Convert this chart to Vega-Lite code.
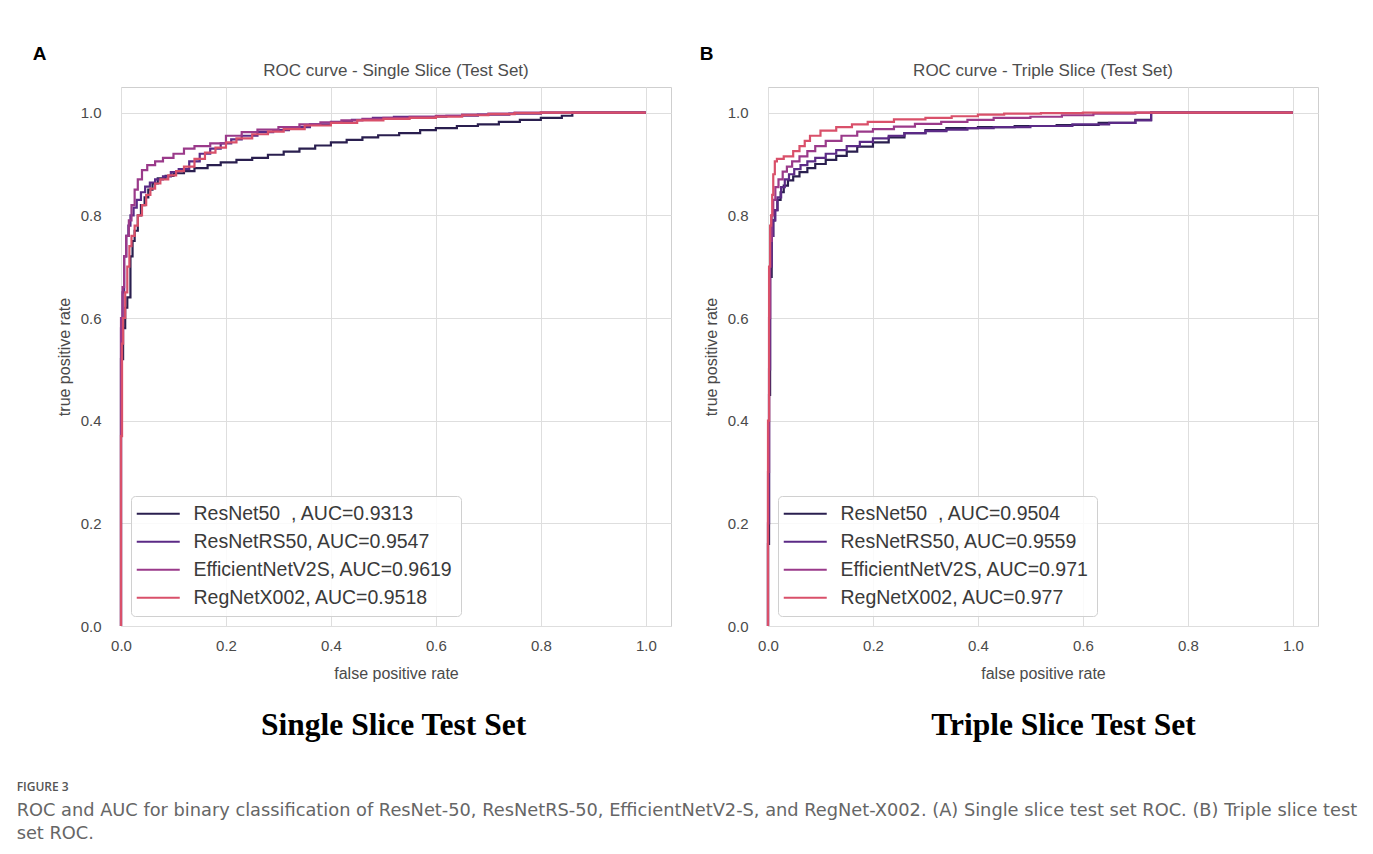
{
 "$schema": "https://vega.github.io/schema/vega-lite/v6.json",
 "background": "white",
 "padding": {"left": 16, "top": 44, "right": 0, "bottom": 10},
 "autosize": {"type": "pad"},
 "config": {
  "font": "Liberation Sans",
  "view": {"stroke": "#cfcfcf", "strokeWidth": 1},
  "axis": {"grid": true, "gridColor": "#dedede", "gridWidth": 1, "domain": false, "ticks": false, "labelFlush": false, "labelFontSize": 15, "labelColor": "#4a4a4a", "labelFont": "Liberation Sans", "titleFontSize": 16, "titleFontWeight": "normal", "titleColor": "#4a4a4a", "titleFont": "Liberation Sans"},
  "legend": {"orient": "bottom-left", "offset": 10, "padding": 8, "strokeColor": "#d0d0d0", "fillColor": "rgba(255,255,255,0.85)", "cornerRadius": 4, "labelFontSize": 19.5, "labelColor": "#3a3a3a", "labelFont": "Liberation Sans", "symbolType": "M-2.4,0H6.2", "symbolSize": 100, "symbolStrokeWidth": 2.2, "labelOffset": 35, "rowPadding": 7, "labelLimit": 400}
 },
 "datasets": {
  "roc": [
   {"panel":"A","model":"ResNet50","fpr":0,"tpr":0},
   {"panel":"A","model":"ResNet50","fpr":0.004,"tpr":0.52},
   {"panel":"A","model":"ResNet50","fpr":0.008,"tpr":0.58},
   {"panel":"A","model":"ResNet50","fpr":0.012,"tpr":0.62},
   {"panel":"A","model":"ResNet50","fpr":0.018,"tpr":0.64},
   {"panel":"A","model":"ResNet50","fpr":0.022,"tpr":0.72},
   {"panel":"A","model":"ResNet50","fpr":0.026,"tpr":0.75},
   {"panel":"A","model":"ResNet50","fpr":0.032,"tpr":0.77},
   {"panel":"A","model":"ResNet50","fpr":0.038,"tpr":0.80},
   {"panel":"A","model":"ResNet50","fpr":0.045,"tpr":0.82},
   {"panel":"A","model":"ResNet50","fpr":0.052,"tpr":0.835},
   {"panel":"A","model":"ResNet50","fpr":0.06,"tpr":0.85},
   {"panel":"A","model":"ResNet50","fpr":0.07,"tpr":0.862},
   {"panel":"A","model":"ResNet50","fpr":0.085,"tpr":0.872},
   {"panel":"A","model":"ResNet50","fpr":0.1,"tpr":0.877},
   {"panel":"A","model":"ResNet50","fpr":0.12,"tpr":0.882},
   {"panel":"A","model":"ResNet50","fpr":0.14,"tpr":0.886},
   {"panel":"A","model":"ResNet50","fpr":0.165,"tpr":0.892},
   {"panel":"A","model":"ResNet50","fpr":0.19,"tpr":0.898},
   {"panel":"A","model":"ResNet50","fpr":0.22,"tpr":0.903},
   {"panel":"A","model":"ResNet50","fpr":0.25,"tpr":0.908},
   {"panel":"A","model":"ResNet50","fpr":0.28,"tpr":0.912},
   {"panel":"A","model":"ResNet50","fpr":0.31,"tpr":0.918},
   {"panel":"A","model":"ResNet50","fpr":0.34,"tpr":0.924},
   {"panel":"A","model":"ResNet50","fpr":0.37,"tpr":0.93},
   {"panel":"A","model":"ResNet50","fpr":0.40,"tpr":0.936},
   {"panel":"A","model":"ResNet50","fpr":0.43,"tpr":0.942},
   {"panel":"A","model":"ResNet50","fpr":0.46,"tpr":0.947},
   {"panel":"A","model":"ResNet50","fpr":0.49,"tpr":0.952},
   {"panel":"A","model":"ResNet50","fpr":0.53,"tpr":0.956},
   {"panel":"A","model":"ResNet50","fpr":0.57,"tpr":0.96},
   {"panel":"A","model":"ResNet50","fpr":0.60,"tpr":0.966},
   {"panel":"A","model":"ResNet50","fpr":0.64,"tpr":0.970},
   {"panel":"A","model":"ResNet50","fpr":0.68,"tpr":0.974},
   {"panel":"A","model":"ResNet50","fpr":0.72,"tpr":0.977},
   {"panel":"A","model":"ResNet50","fpr":0.76,"tpr":0.982},
   {"panel":"A","model":"ResNet50","fpr":0.80,"tpr":0.986},
   {"panel":"A","model":"ResNet50","fpr":0.84,"tpr":0.99},
   {"panel":"A","model":"ResNet50","fpr":0.86,"tpr":0.994},
   {"panel":"A","model":"ResNet50","fpr":0.87,"tpr":1.0},
   {"panel":"A","model":"ResNet50","fpr":1.0,"tpr":1.0},

   {"panel":"A","model":"ResNetRS50","fpr":0,"tpr":0},
   {"panel":"A","model":"ResNetRS50","fpr":0.003,"tpr":0.58},
   {"panel":"A","model":"ResNetRS50","fpr":0.006,"tpr":0.65},
   {"panel":"A","model":"ResNetRS50","fpr":0.01,"tpr":0.72},
   {"panel":"A","model":"ResNetRS50","fpr":0.014,"tpr":0.76},
   {"panel":"A","model":"ResNetRS50","fpr":0.018,"tpr":0.78},
   {"panel":"A","model":"ResNetRS50","fpr":0.024,"tpr":0.80},
   {"panel":"A","model":"ResNetRS50","fpr":0.03,"tpr":0.815},
   {"panel":"A","model":"ResNetRS50","fpr":0.038,"tpr":0.83},
   {"panel":"A","model":"ResNetRS50","fpr":0.046,"tpr":0.845},
   {"panel":"A","model":"ResNetRS50","fpr":0.055,"tpr":0.856},
   {"panel":"A","model":"ResNetRS50","fpr":0.065,"tpr":0.864},
   {"panel":"A","model":"ResNetRS50","fpr":0.08,"tpr":0.87},
   {"panel":"A","model":"ResNetRS50","fpr":0.095,"tpr":0.876},
   {"panel":"A","model":"ResNetRS50","fpr":0.11,"tpr":0.884},
   {"panel":"A","model":"ResNetRS50","fpr":0.13,"tpr":0.89},
   {"panel":"A","model":"ResNetRS50","fpr":0.15,"tpr":0.905},
   {"panel":"A","model":"ResNetRS50","fpr":0.17,"tpr":0.92},
   {"panel":"A","model":"ResNetRS50","fpr":0.19,"tpr":0.93},
   {"panel":"A","model":"ResNetRS50","fpr":0.21,"tpr":0.94},
   {"panel":"A","model":"ResNetRS50","fpr":0.23,"tpr":0.948},
   {"panel":"A","model":"ResNetRS50","fpr":0.26,"tpr":0.955},
   {"panel":"A","model":"ResNetRS50","fpr":0.29,"tpr":0.962},
   {"panel":"A","model":"ResNetRS50","fpr":0.32,"tpr":0.966},
   {"panel":"A","model":"ResNetRS50","fpr":0.36,"tpr":0.972},
   {"panel":"A","model":"ResNetRS50","fpr":0.40,"tpr":0.977},
   {"panel":"A","model":"ResNetRS50","fpr":0.44,"tpr":0.982},
   {"panel":"A","model":"ResNetRS50","fpr":0.48,"tpr":0.986},
   {"panel":"A","model":"ResNetRS50","fpr":0.52,"tpr":0.99},
   {"panel":"A","model":"ResNetRS50","fpr":0.62,"tpr":0.992},
   {"panel":"A","model":"ResNetRS50","fpr":0.68,"tpr":0.994},
   {"panel":"A","model":"ResNetRS50","fpr":0.74,"tpr":0.996},
   {"panel":"A","model":"ResNetRS50","fpr":0.8,"tpr":0.998},
   {"panel":"A","model":"ResNetRS50","fpr":0.85,"tpr":1.0},
   {"panel":"A","model":"ResNetRS50","fpr":1.0,"tpr":1.0},

   {"panel":"A","model":"EfficientNetV2S","fpr":0,"tpr":0},
   {"panel":"A","model":"EfficientNetV2S","fpr":0.003,"tpr":0.6},
   {"panel":"A","model":"EfficientNetV2S","fpr":0.006,"tpr":0.66},
   {"panel":"A","model":"EfficientNetV2S","fpr":0.01,"tpr":0.72},
   {"panel":"A","model":"EfficientNetV2S","fpr":0.015,"tpr":0.76},
   {"panel":"A","model":"EfficientNetV2S","fpr":0.02,"tpr":0.79},
   {"panel":"A","model":"EfficientNetV2S","fpr":0.026,"tpr":0.82},
   {"panel":"A","model":"EfficientNetV2S","fpr":0.032,"tpr":0.85},
   {"panel":"A","model":"EfficientNetV2S","fpr":0.04,"tpr":0.87},
   {"panel":"A","model":"EfficientNetV2S","fpr":0.05,"tpr":0.888},
   {"panel":"A","model":"EfficientNetV2S","fpr":0.065,"tpr":0.898},
   {"panel":"A","model":"EfficientNetV2S","fpr":0.08,"tpr":0.905},
   {"panel":"A","model":"EfficientNetV2S","fpr":0.1,"tpr":0.912},
   {"panel":"A","model":"EfficientNetV2S","fpr":0.12,"tpr":0.92},
   {"panel":"A","model":"EfficientNetV2S","fpr":0.14,"tpr":0.93},
   {"panel":"A","model":"EfficientNetV2S","fpr":0.17,"tpr":0.935},
   {"panel":"A","model":"EfficientNetV2S","fpr":0.2,"tpr":0.94},
   {"panel":"A","model":"EfficientNetV2S","fpr":0.23,"tpr":0.955},
   {"panel":"A","model":"EfficientNetV2S","fpr":0.26,"tpr":0.962},
   {"panel":"A","model":"EfficientNetV2S","fpr":0.3,"tpr":0.967},
   {"panel":"A","model":"EfficientNetV2S","fpr":0.34,"tpr":0.972},
   {"panel":"A","model":"EfficientNetV2S","fpr":0.38,"tpr":0.977},
   {"panel":"A","model":"EfficientNetV2S","fpr":0.42,"tpr":0.981},
   {"panel":"A","model":"EfficientNetV2S","fpr":0.46,"tpr":0.985},
   {"panel":"A","model":"EfficientNetV2S","fpr":0.5,"tpr":0.988},
   {"panel":"A","model":"EfficientNetV2S","fpr":0.55,"tpr":0.99},
   {"panel":"A","model":"EfficientNetV2S","fpr":0.6,"tpr":0.992},
   {"panel":"A","model":"EfficientNetV2S","fpr":0.65,"tpr":0.994},
   {"panel":"A","model":"EfficientNetV2S","fpr":0.7,"tpr":0.996},
   {"panel":"A","model":"EfficientNetV2S","fpr":0.75,"tpr":0.998},
   {"panel":"A","model":"EfficientNetV2S","fpr":0.8,"tpr":1.0},
   {"panel":"A","model":"EfficientNetV2S","fpr":1.0,"tpr":1.0},

   {"panel":"A","model":"RegNetX002","fpr":0,"tpr":0},
   {"panel":"A","model":"RegNetX002","fpr":0.002,"tpr":0.37},
   {"panel":"A","model":"RegNetX002","fpr":0.004,"tpr":0.55},
   {"panel":"A","model":"RegNetX002","fpr":0.008,"tpr":0.6},
   {"panel":"A","model":"RegNetX002","fpr":0.012,"tpr":0.65},
   {"panel":"A","model":"RegNetX002","fpr":0.016,"tpr":0.7},
   {"panel":"A","model":"RegNetX002","fpr":0.02,"tpr":0.74},
   {"panel":"A","model":"RegNetX002","fpr":0.026,"tpr":0.76},
   {"panel":"A","model":"RegNetX002","fpr":0.032,"tpr":0.78},
   {"panel":"A","model":"RegNetX002","fpr":0.04,"tpr":0.80},
   {"panel":"A","model":"RegNetX002","fpr":0.048,"tpr":0.82},
   {"panel":"A","model":"RegNetX002","fpr":0.056,"tpr":0.84},
   {"panel":"A","model":"RegNetX002","fpr":0.065,"tpr":0.852},
   {"panel":"A","model":"RegNetX002","fpr":0.075,"tpr":0.862},
   {"panel":"A","model":"RegNetX002","fpr":0.09,"tpr":0.87},
   {"panel":"A","model":"RegNetX002","fpr":0.105,"tpr":0.878},
   {"panel":"A","model":"RegNetX002","fpr":0.12,"tpr":0.886},
   {"panel":"A","model":"RegNetX002","fpr":0.14,"tpr":0.895},
   {"panel":"A","model":"RegNetX002","fpr":0.16,"tpr":0.91},
   {"panel":"A","model":"RegNetX002","fpr":0.18,"tpr":0.922},
   {"panel":"A","model":"RegNetX002","fpr":0.2,"tpr":0.932},
   {"panel":"A","model":"RegNetX002","fpr":0.22,"tpr":0.942},
   {"panel":"A","model":"RegNetX002","fpr":0.25,"tpr":0.95},
   {"panel":"A","model":"RegNetX002","fpr":0.28,"tpr":0.958},
   {"panel":"A","model":"RegNetX002","fpr":0.31,"tpr":0.963},
   {"panel":"A","model":"RegNetX002","fpr":0.35,"tpr":0.968},
   {"panel":"A","model":"RegNetX002","fpr":0.4,"tpr":0.975},
   {"panel":"A","model":"RegNetX002","fpr":0.45,"tpr":0.98},
   {"panel":"A","model":"RegNetX002","fpr":0.5,"tpr":0.985},
   {"panel":"A","model":"RegNetX002","fpr":0.55,"tpr":0.988},
   {"panel":"A","model":"RegNetX002","fpr":0.6,"tpr":0.99},
   {"panel":"A","model":"RegNetX002","fpr":0.65,"tpr":0.992},
   {"panel":"A","model":"RegNetX002","fpr":0.7,"tpr":0.995},
   {"panel":"A","model":"RegNetX002","fpr":0.75,"tpr":0.997},
   {"panel":"A","model":"RegNetX002","fpr":0.8,"tpr":0.999},
   {"panel":"A","model":"RegNetX002","fpr":0.85,"tpr":1.0},
   {"panel":"A","model":"RegNetX002","fpr":1.0,"tpr":1.0},

   {"panel":"B","model":"ResNet50","fpr":0,"tpr":0},
   {"panel":"B","model":"ResNet50","fpr":0.002,"tpr":0.16},
   {"panel":"B","model":"ResNet50","fpr":0.004,"tpr":0.45},
   {"panel":"B","model":"ResNet50","fpr":0.007,"tpr":0.68},
   {"panel":"B","model":"ResNet50","fpr":0.01,"tpr":0.76},
   {"panel":"B","model":"ResNet50","fpr":0.013,"tpr":0.79},
   {"panel":"B","model":"ResNet50","fpr":0.018,"tpr":0.81},
   {"panel":"B","model":"ResNet50","fpr":0.024,"tpr":0.83},
   {"panel":"B","model":"ResNet50","fpr":0.03,"tpr":0.845},
   {"panel":"B","model":"ResNet50","fpr":0.038,"tpr":0.858},
   {"panel":"B","model":"ResNet50","fpr":0.048,"tpr":0.868},
   {"panel":"B","model":"ResNet50","fpr":0.06,"tpr":0.876},
   {"panel":"B","model":"ResNet50","fpr":0.075,"tpr":0.884},
   {"panel":"B","model":"ResNet50","fpr":0.09,"tpr":0.892},
   {"panel":"B","model":"ResNet50","fpr":0.11,"tpr":0.9},
   {"panel":"B","model":"ResNet50","fpr":0.13,"tpr":0.908},
   {"panel":"B","model":"ResNet50","fpr":0.15,"tpr":0.916},
   {"panel":"B","model":"ResNet50","fpr":0.17,"tpr":0.924},
   {"panel":"B","model":"ResNet50","fpr":0.2,"tpr":0.934},
   {"panel":"B","model":"ResNet50","fpr":0.23,"tpr":0.942},
   {"panel":"B","model":"ResNet50","fpr":0.26,"tpr":0.952},
   {"panel":"B","model":"ResNet50","fpr":0.3,"tpr":0.96},
   {"panel":"B","model":"ResNet50","fpr":0.34,"tpr":0.966},
   {"panel":"B","model":"ResNet50","fpr":0.4,"tpr":0.97},
   {"panel":"B","model":"ResNet50","fpr":0.47,"tpr":0.972},
   {"panel":"B","model":"ResNet50","fpr":0.55,"tpr":0.974},
   {"panel":"B","model":"ResNet50","fpr":0.63,"tpr":0.976},
   {"panel":"B","model":"ResNet50","fpr":0.7,"tpr":0.98},
   {"panel":"B","model":"ResNet50","fpr":0.73,"tpr":0.986},
   {"panel":"B","model":"ResNet50","fpr":0.8,"tpr":1.0},
   {"panel":"B","model":"ResNet50","fpr":1.0,"tpr":1.0},

   {"panel":"B","model":"ResNetRS50","fpr":0,"tpr":0},
   {"panel":"B","model":"ResNetRS50","fpr":0.002,"tpr":0.2},
   {"panel":"B","model":"ResNetRS50","fpr":0.004,"tpr":0.5},
   {"panel":"B","model":"ResNetRS50","fpr":0.007,"tpr":0.7},
   {"panel":"B","model":"ResNetRS50","fpr":0.01,"tpr":0.76},
   {"panel":"B","model":"ResNetRS50","fpr":0.014,"tpr":0.79},
   {"panel":"B","model":"ResNetRS50","fpr":0.018,"tpr":0.81},
   {"panel":"B","model":"ResNetRS50","fpr":0.025,"tpr":0.835},
   {"panel":"B","model":"ResNetRS50","fpr":0.032,"tpr":0.855},
   {"panel":"B","model":"ResNetRS50","fpr":0.04,"tpr":0.87},
   {"panel":"B","model":"ResNetRS50","fpr":0.05,"tpr":0.88},
   {"panel":"B","model":"ResNetRS50","fpr":0.062,"tpr":0.89},
   {"panel":"B","model":"ResNetRS50","fpr":0.075,"tpr":0.898},
   {"panel":"B","model":"ResNetRS50","fpr":0.09,"tpr":0.905},
   {"panel":"B","model":"ResNetRS50","fpr":0.11,"tpr":0.912},
   {"panel":"B","model":"ResNetRS50","fpr":0.13,"tpr":0.92},
   {"panel":"B","model":"ResNetRS50","fpr":0.15,"tpr":0.927},
   {"panel":"B","model":"ResNetRS50","fpr":0.175,"tpr":0.935},
   {"panel":"B","model":"ResNetRS50","fpr":0.2,"tpr":0.943},
   {"panel":"B","model":"ResNetRS50","fpr":0.23,"tpr":0.95},
   {"panel":"B","model":"ResNetRS50","fpr":0.26,"tpr":0.955},
   {"panel":"B","model":"ResNetRS50","fpr":0.3,"tpr":0.96},
   {"panel":"B","model":"ResNetRS50","fpr":0.34,"tpr":0.964},
   {"panel":"B","model":"ResNetRS50","fpr":0.38,"tpr":0.967},
   {"panel":"B","model":"ResNetRS50","fpr":0.43,"tpr":0.97},
   {"panel":"B","model":"ResNetRS50","fpr":0.5,"tpr":0.972},
   {"panel":"B","model":"ResNetRS50","fpr":0.58,"tpr":0.974},
   {"panel":"B","model":"ResNetRS50","fpr":0.65,"tpr":0.977},
   {"panel":"B","model":"ResNetRS50","fpr":0.7,"tpr":0.98},
   {"panel":"B","model":"ResNetRS50","fpr":0.73,"tpr":0.985},
   {"panel":"B","model":"ResNetRS50","fpr":0.8,"tpr":1.0},
   {"panel":"B","model":"ResNetRS50","fpr":1.0,"tpr":1.0},

   {"panel":"B","model":"EfficientNetV2S","fpr":0,"tpr":0},
   {"panel":"B","model":"EfficientNetV2S","fpr":0.002,"tpr":0.3},
   {"panel":"B","model":"EfficientNetV2S","fpr":0.004,"tpr":0.6},
   {"panel":"B","model":"EfficientNetV2S","fpr":0.007,"tpr":0.75},
   {"panel":"B","model":"EfficientNetV2S","fpr":0.01,"tpr":0.8},
   {"panel":"B","model":"EfficientNetV2S","fpr":0.014,"tpr":0.83},
   {"panel":"B","model":"EfficientNetV2S","fpr":0.02,"tpr":0.855},
   {"panel":"B","model":"EfficientNetV2S","fpr":0.028,"tpr":0.87},
   {"panel":"B","model":"EfficientNetV2S","fpr":0.036,"tpr":0.885},
   {"panel":"B","model":"EfficientNetV2S","fpr":0.046,"tpr":0.895},
   {"panel":"B","model":"EfficientNetV2S","fpr":0.06,"tpr":0.905},
   {"panel":"B","model":"EfficientNetV2S","fpr":0.075,"tpr":0.915},
   {"panel":"B","model":"EfficientNetV2S","fpr":0.09,"tpr":0.925},
   {"panel":"B","model":"EfficientNetV2S","fpr":0.11,"tpr":0.935},
   {"panel":"B","model":"EfficientNetV2S","fpr":0.14,"tpr":0.945},
   {"panel":"B","model":"EfficientNetV2S","fpr":0.17,"tpr":0.955},
   {"panel":"B","model":"EfficientNetV2S","fpr":0.2,"tpr":0.963},
   {"panel":"B","model":"EfficientNetV2S","fpr":0.24,"tpr":0.968},
   {"panel":"B","model":"EfficientNetV2S","fpr":0.28,"tpr":0.973},
   {"panel":"B","model":"EfficientNetV2S","fpr":0.33,"tpr":0.978},
   {"panel":"B","model":"EfficientNetV2S","fpr":0.38,"tpr":0.982},
   {"panel":"B","model":"EfficientNetV2S","fpr":0.43,"tpr":0.986},
   {"panel":"B","model":"EfficientNetV2S","fpr":0.5,"tpr":0.99},
   {"panel":"B","model":"EfficientNetV2S","fpr":0.56,"tpr":0.992},
   {"panel":"B","model":"EfficientNetV2S","fpr":0.62,"tpr":0.995},
   {"panel":"B","model":"EfficientNetV2S","fpr":0.7,"tpr":0.998},
   {"panel":"B","model":"EfficientNetV2S","fpr":0.8,"tpr":1.0},
   {"panel":"B","model":"EfficientNetV2S","fpr":1.0,"tpr":1.0},

   {"panel":"B","model":"RegNetX002","fpr":0,"tpr":0},
   {"panel":"B","model":"RegNetX002","fpr":0.002,"tpr":0.4},
   {"panel":"B","model":"RegNetX002","fpr":0.004,"tpr":0.7},
   {"panel":"B","model":"RegNetX002","fpr":0.006,"tpr":0.78},
   {"panel":"B","model":"RegNetX002","fpr":0.008,"tpr":0.8},
   {"panel":"B","model":"RegNetX002","fpr":0.01,"tpr":0.84},
   {"panel":"B","model":"RegNetX002","fpr":0.013,"tpr":0.88},
   {"panel":"B","model":"RegNetX002","fpr":0.017,"tpr":0.905},
   {"panel":"B","model":"RegNetX002","fpr":0.03,"tpr":0.91},
   {"panel":"B","model":"RegNetX002","fpr":0.048,"tpr":0.915},
   {"panel":"B","model":"RegNetX002","fpr":0.06,"tpr":0.925},
   {"panel":"B","model":"RegNetX002","fpr":0.07,"tpr":0.935},
   {"panel":"B","model":"RegNetX002","fpr":0.08,"tpr":0.945},
   {"panel":"B","model":"RegNetX002","fpr":0.1,"tpr":0.955},
   {"panel":"B","model":"RegNetX002","fpr":0.13,"tpr":0.965},
   {"panel":"B","model":"RegNetX002","fpr":0.16,"tpr":0.972},
   {"panel":"B","model":"RegNetX002","fpr":0.19,"tpr":0.977},
   {"panel":"B","model":"RegNetX002","fpr":0.24,"tpr":0.982},
   {"panel":"B","model":"RegNetX002","fpr":0.3,"tpr":0.987},
   {"panel":"B","model":"RegNetX002","fpr":0.35,"tpr":0.99},
   {"panel":"B","model":"RegNetX002","fpr":0.4,"tpr":0.993},
   {"panel":"B","model":"RegNetX002","fpr":0.45,"tpr":0.996},
   {"panel":"B","model":"RegNetX002","fpr":0.52,"tpr":0.998},
   {"panel":"B","model":"RegNetX002","fpr":0.6,"tpr":0.999},
   {"panel":"B","model":"RegNetX002","fpr":0.75,"tpr":1.0},
   {"panel":"B","model":"RegNetX002","fpr":1.0,"tpr":1.0}
  ]
 },
 "title": {"text": "FIGURE 3", "subtitle": ["ROC and AUC for binary classification of ResNet-50, ResNetRS-50, EfficientNetV2-S, and RegNet-X002. (A) Single slice test set ROC. (B) Triple slice test", "set ROC."], "orient": "bottom", "anchor": "start", "frame": "bounds", "dx": -16, "offset": 41, "font": "Open Sans", "fontSize": 12, "fontWeight": 600, "color": "#555555", "subtitleFont": "DejaVu Sans", "subtitleFontSize": 17.8, "subtitleColor": "#666666", "subtitleLineHeight": 23, "subtitlePadding": 8},
 "spacing": 27,
 "resolve": {"scale": {"color": "independent"}, "legend": {"color": "independent"}},
 "hconcat": [
  {
   "title": {"text": "A", "anchor": "start", "frame": "bounds", "dx": -23, "dy": 2, "offset": 0, "fontSize": 19, "fontWeight": "bold", "color": "#000000", "font": "Liberation Sans"},
   "resolve": {"scale": {"color": "independent"}, "legend": {"color": "independent"}},
   "vconcat": [{
    "title": {"text": "Single Slice Test Set", "orient": "bottom", "anchor": "middle", "dx": 30, "font": "Liberation Serif", "fontSize": 31.5, "fontWeight": "bold", "color": "#000000", "offset": 28},
    "resolve": {"scale": {"color": "independent"}, "legend": {"color": "independent"}},
    "vconcat": [{
     "width": 550, "height": 539,
     "title": {"text": "ROC curve - Single Slice (Test Set)", "fontSize": 17, "fontWeight": "normal", "color": "#4d4d4d", "offset": 7, "anchor": "middle"},
     "data": {"name": "roc"},
     "transform": [{"filter": "datum.panel === 'A'"}],
     "mark": {"type": "line", "interpolate": "step-before", "strokeWidth": 2.2},
     "encoding": {
      "x": {"field": "fpr", "type": "quantitative", "scale": {"domain": [0, 1.048], "nice": false, "zero": false}, "axis": {"values": [0, 0.2, 0.4, 0.6, 0.8, 1], "format": ".1f", "title": "false positive rate", "labelPadding": 12, "titlePadding": 12}},
      "y": {"field": "tpr", "type": "quantitative", "scale": {"domain": [0, 1.05], "nice": false, "zero": false}, "axis": {"values": [0, 0.2, 0.4, 0.6, 0.8, 1], "format": ".1f", "title": "true positive rate", "labelPadding": 20, "titlePadding": 8}},
      "color": {"field": "model", "type": "nominal", "scale": {"domain": ["ResNet50", "ResNetRS50", "EfficientNetV2S", "RegNetX002"], "range": ["#2a1f4f", "#5b2a86", "#9a3a8a", "#d9506a"]}, "legend": {"title": null, "labelExpr": "{'ResNet50': 'ResNet50\u00a0\u00a0, AUC=0.9313', 'ResNetRS50': 'ResNetRS50, AUC=0.9547', 'EfficientNetV2S': 'EfficientNetV2S, AUC=0.9619', 'RegNetX002': 'RegNetX002, AUC=0.9518'}[datum.label]"}}
     }
    }]
   }]
  },
  {
   "title": {"text": "B", "anchor": "start", "frame": "bounds", "dx": -3, "dy": 2, "offset": 0, "fontSize": 19, "fontWeight": "bold", "color": "#000000", "font": "Liberation Sans"},
   "resolve": {"scale": {"color": "independent"}, "legend": {"color": "independent"}},
   "vconcat": [{
    "title": {"text": "Triple Slice Test Set", "orient": "bottom", "anchor": "middle", "dx": 53, "font": "Liberation Serif", "fontSize": 31.5, "fontWeight": "bold", "color": "#000000", "offset": 28},
    "resolve": {"scale": {"color": "independent"}, "legend": {"color": "independent"}},
    "vconcat": [{
     "width": 550, "height": 539,
     "title": {"text": "ROC curve - Triple Slice (Test Set)", "fontSize": 17, "fontWeight": "normal", "color": "#4d4d4d", "offset": 7, "anchor": "middle"},
     "data": {"name": "roc"},
     "transform": [{"filter": "datum.panel === 'B'"}],
     "mark": {"type": "line", "interpolate": "step-before", "strokeWidth": 2.2},
     "encoding": {
      "x": {"field": "fpr", "type": "quantitative", "scale": {"domain": [0, 1.048], "nice": false, "zero": false}, "axis": {"values": [0, 0.2, 0.4, 0.6, 0.8, 1], "format": ".1f", "title": "false positive rate", "labelPadding": 12, "titlePadding": 12}},
      "y": {"field": "tpr", "type": "quantitative", "scale": {"domain": [0, 1.05], "nice": false, "zero": false}, "axis": {"values": [0, 0.2, 0.4, 0.6, 0.8, 1], "format": ".1f", "title": "true positive rate", "labelPadding": 20, "titlePadding": 8}},
      "color": {"field": "model", "type": "nominal", "scale": {"domain": ["ResNet50", "ResNetRS50", "EfficientNetV2S", "RegNetX002"], "range": ["#2a1f4f", "#5b2a86", "#9a3a8a", "#d9506a"]}, "legend": {"title": null, "labelExpr": "{'ResNet50': 'ResNet50\u00a0\u00a0, AUC=0.9504', 'ResNetRS50': 'ResNetRS50, AUC=0.9559', 'EfficientNetV2S': 'EfficientNetV2S, AUC=0.971', 'RegNetX002': 'RegNetX002, AUC=0.977'}[datum.label]"}}
     }
    }]
   }]
  }
 ]
}
